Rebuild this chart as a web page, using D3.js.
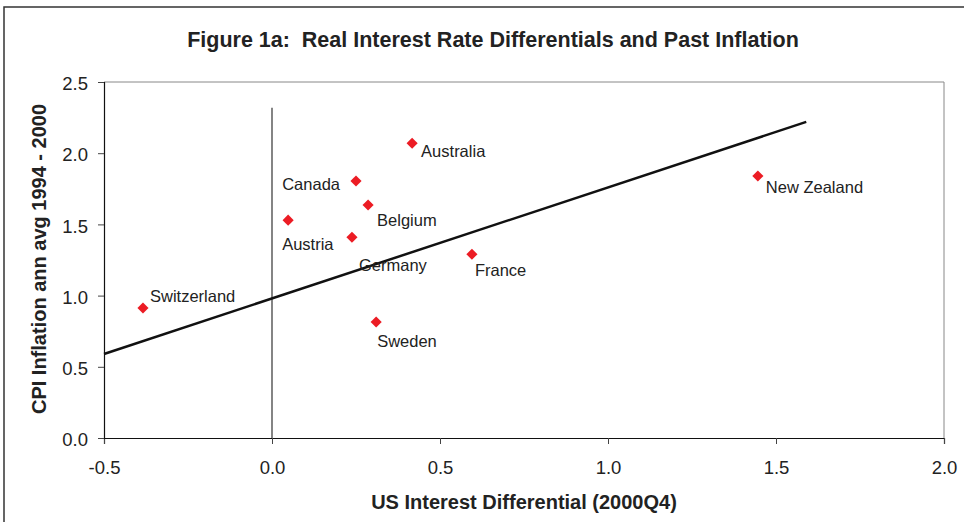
<!DOCTYPE html>
<html>
<head>
<meta charset="utf-8">
<script src="https://cdn.jsdelivr.net/npm/d3@7"></script>
<style>
  body { margin: 0; background: #fff; }
  svg text { font-family: "Liberation Sans", Arial, sans-serif; fill: #222; }
</style>
</head>
<body>
<svg id="chart" width="964" height="522"></svg>
<script>
// data
var countries = ["Switzerland", "Austria", "Canada", "Australia", "Belgium", "Germany", "France", "Sweden", "New Zealand"];
var usDiff    = [-0.384, 0.048, 0.25, 0.417, 0.286, 0.238, 0.595, 0.31, 1.446];
var cpiInfl   = [0.913, 1.53, 1.805, 2.07, 1.636, 1.41, 1.29, 0.815, 1.84];
var fitX = [-0.5, 1.59];
var fitY = [0.59, 2.22];
var zeroX = [0, 0];
var zeroY = [0, 2.32];
var xTicks = [-0.5, 0.0, 0.5, 1.0, 1.5, 2.0];
var yTicks = [0.0, 0.5, 1.0, 1.5, 2.0, 2.5];

var svg = d3.select("#chart");
var plotL = 104, plotR = 944, plotT = 82, plotB = 438;

var x = d3.scaleLinear().domain([-0.5, 2.0]).range([plotL, plotR]);
var y = d3.scaleLinear().domain([0, 2.5]).range([plotB, plotT]);

// outer frame
svg.append("rect")
  .attr("x", 4).attr("y", 7).attr("width", 1000).attr("height", 600)
  .attr("fill", "none").attr("stroke", "#333").attr("stroke-width", 1.5);

// title
svg.append("text")
  .attr("x", 493).attr("y", 47)
  .attr("text-anchor", "middle")
  .style("font-size", "21.5px").style("font-weight", "bold")
  .style("white-space", "pre")
  .text("Figure 1a:  Real Interest Rate Differentials and Past Inflation");

// plot frame (top/right grey)
svg.append("path")
  .attr("d", "M" + plotL + "," + plotT + "H" + plotR + "V" + plotB)
  .attr("fill", "none").attr("stroke", "#888").attr("stroke-width", 1);

// axes
var fmt = function(d) { return d < 0 ? "-" + d3.format(".1f")(-d) : d3.format(".1f")(d); };
var xAxis = d3.axisBottom(x).tickValues(xTicks).tickFormat(fmt).tickSize(6).tickPadding(17);
var yAxis = d3.axisLeft(y).tickValues(yTicks).tickFormat(fmt).tickSize(6).tickPadding(10);

var gx = svg.append("g").attr("transform", "translate(0," + plotB + ")").call(xAxis);
var gy = svg.append("g").attr("transform", "translate(" + plotL + ",0)").call(yAxis);
[gx, gy].forEach(function(g) {
  g.select(".domain").attr("stroke", "#111").attr("stroke-width", 1.2);
  g.selectAll(".tick line").attr("stroke", "#444");
  g.selectAll(".tick text").style("font-size", "18.5px").attr("fill", "#222")
    .style("font-family", "'Liberation Sans', Arial, sans-serif");
});
gy.selectAll(".tick text").attr("dy", "0.42em");

// axis titles
svg.append("text")
  .attr("x", 524).attr("y", 509)
  .attr("text-anchor", "middle")
  .style("font-size", "20px").style("font-weight", "bold")
  .text("US Interest Differential (2000Q4)");

svg.append("text")
  .attr("transform", "translate(46," + 259 + ") rotate(-90)")
  .attr("text-anchor", "middle")
  .style("font-size", "20px").style("font-weight", "bold")
  .text("CPI Inflation ann avg 1994 - 2000");

// vertical zero line
var line = d3.line().x(function(d) { return x(d[0]); }).y(function(d) { return y(d[1]); });
svg.append("path")
  .datum(d3.zip(zeroX, zeroY))
  .attr("d", line)
  .attr("stroke", "#333").attr("stroke-width", 1.2).attr("fill", "none");

// fitted line
svg.append("path")
  .datum(d3.zip(fitX, fitY))
  .attr("d", line)
  .attr("stroke", "#111").attr("stroke-width", 2.5).attr("fill", "none");

// points
var pts = countries.map(function(c, i) { return { name: c, x: usDiff[i], y: cpiInfl[i] }; });

svg.selectAll(".pt")
  .data(pts)
  .enter().append("path")
  .attr("class", "pt")
  .attr("d", d3.symbol().type(d3.symbolSquare).size(62))
  .attr("transform", function(d) { return "translate(" + x(d.x) + "," + y(d.y) + ") rotate(45)"; })
  .attr("fill", "#ec1c24");

// label placement (dx, dy, anchor) per country
var place = {
  "Switzerland": [7, -6, "start"],
  "Austria": [-6, 30, "start"],
  "Canada": [-16, 9, "end"],
  "Australia": [9, 14, "start"],
  "Belgium": [9, 21, "start"],
  "Germany": [7, 34, "start"],
  "France": [3, 22, "start"],
  "Sweden": [1, 25, "start"],
  "New Zealand": [8, 17, "start"]
};

svg.selectAll(".lbl")
  .data(pts)
  .enter().append("text")
  .attr("class", "lbl")
  .attr("x", function(d) { return x(d.x) + place[d.name][0]; })
  .attr("y", function(d) { return y(d.y) + place[d.name][1]; })
  .attr("text-anchor", function(d) { return place[d.name][2]; })
  .style("font-size", "16.5px")
  .text(function(d) { return d.name; });
</script>
</body>
</html>
